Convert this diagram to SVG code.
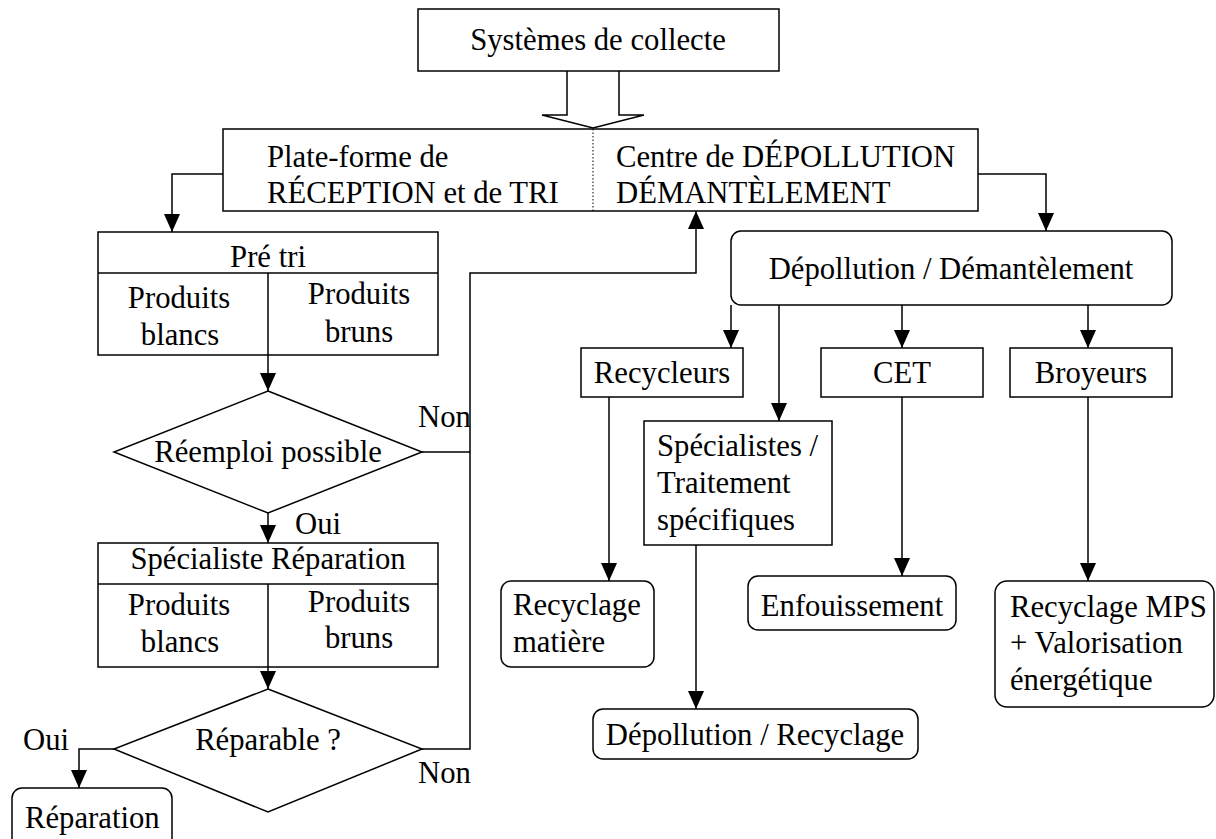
<svg xmlns="http://www.w3.org/2000/svg" width="1216" height="839" viewBox="0 0 1216 839">
<style>
.box{fill:#fff;stroke:#000;stroke-width:1.5}
.ln{fill:none;stroke:#000;stroke-width:1.5}
text{font-family:'Liberation Serif','DejaVu Serif','Times New Roman',serif;font-size:30.7px;fill:#000}
.c{text-anchor:middle}
</style>
<defs>
<marker id="ah" viewBox="0 0 18 16" markerWidth="18" markerHeight="16" refX="18" refY="8" orient="auto" markerUnits="userSpaceOnUse">
<path d="M0,0 L18,8 L0,16 Z" fill="#000"/>
</marker>
</defs>
<rect width="1216" height="839" fill="#fff"/>

<g id="connectors">
<path class="ln" d="M567,71 V115 H542 L593,128 L644,115 H619 V71" fill="#fff"/>
<path class="ln" d="M223,174 H172 V232" marker-end="url(#ah)"/>
<path class="ln" d="M978,174 H1046 V231" marker-end="url(#ah)"/>
<path class="ln" d="M268,355 V391" marker-end="url(#ah)"/>
<path class="ln" d="M268,513 V543" marker-end="url(#ah)"/>
<path class="ln" d="M268,667 V689" marker-end="url(#ah)"/>
<path class="ln" d="M114,749 H79 V788" marker-end="url(#ah)"/>
<path class="ln" d="M422,452 H470 V273 H696 V211" marker-end="url(#ah)"/>
<path class="ln" d="M422,749 H470 V452"/>
<path class="ln" d="M731,305 V348" marker-end="url(#ah)"/>
<path class="ln" d="M779,305 V421" marker-end="url(#ah)"/>
<path class="ln" d="M902,305 V348" marker-end="url(#ah)"/>
<path class="ln" d="M1088,305 V348" marker-end="url(#ah)"/>
<path class="ln" d="M609,397 V581" marker-end="url(#ah)"/>
<path class="ln" d="M696,545 V709" marker-end="url(#ah)"/>
<path class="ln" d="M902,397 V576" marker-end="url(#ah)"/>
<path class="ln" d="M1088,397 V581" marker-end="url(#ah)"/>
<text font-family="Liberation Serif, serif" x="418" y="427">Non</text>
<text font-family="Liberation Serif, serif" x="295" y="534">Oui</text>
<text font-family="Liberation Serif, serif" x="23" y="750">Oui</text>
<text font-family="Liberation Serif, serif" x="418" y="783">Non</text>
</g>

<g id="collecte">
<rect class="box" x="418" y="9" width="361" height="62"/>
<text class="c" x="598" y="50">Systèmes de collecte</text>
</g>

<g id="plateforme">
<rect class="box" x="223" y="129" width="755" height="82"/>
<line x1="593" y1="129" x2="593" y2="211" stroke="#000" stroke-width="1" stroke-dasharray="1.5,2"/>
<text x="267" y="167">Plate-forme de</text>
<text x="267" y="203">RÉCEPTION et de TRI</text>
<text x="616" y="167">Centre de DÉPOLLUTION</text>
<text x="616" y="203">DÉMANTÈLEMENT</text>
</g>

<g id="pretri">
<rect class="box" x="98" y="232" width="340" height="123"/>
<line class="ln" x1="98" y1="273" x2="438" y2="273"/>
<line class="ln" x1="268" y1="273" x2="268" y2="355"/>
<text class="c" x="268" y="267">Pré tri</text>
<text class="c" x="179" y="308">Produits</text>
<text class="c" x="180" y="345">blancs</text>
<text class="c" x="359" y="304">Produits</text>
<text class="c" x="359" y="342">bruns</text>
</g>

<g id="reemploi">
<polygon class="box" points="268,391 422,452 268,513 114,452"/>
<text class="c" x="268" y="462">Réemploi possible</text>
</g>

<g id="specialiste-reparation">
<rect class="box" x="98" y="543" width="340" height="124"/>
<line class="ln" x1="98" y1="584" x2="438" y2="584"/>
<line class="ln" x1="268" y1="584" x2="268" y2="667"/>
<text class="c" x="268" y="569">Spécialiste Réparation</text>
<text class="c" x="179" y="615">Produits</text>
<text class="c" x="180" y="652">blancs</text>
<text class="c" x="359" y="612">Produits</text>
<text class="c" x="359" y="648">bruns</text>
</g>

<g id="reparable">
<polygon class="box" points="268,689 422,749 268,812 114,749"/>
<text class="c" x="268" y="750">Réparable ?</text>
</g>

<g id="reparation">
<rect class="box" x="12" y="788" width="160" height="80" rx="10"/>
<text x="25" y="828">Réparation</text>
</g>

<g id="depollution-demantelement">
<rect class="box" x="731" y="231" width="441" height="74" rx="10"/>
<text class="c" x="951" y="279">Dépollution / Démantèlement</text>
</g>

<g id="recycleurs">
<rect class="box" x="581" y="348" width="162" height="49"/>
<text class="c" x="662" y="383">Recycleurs</text>
</g>

<g id="cet">
<rect class="box" x="821" y="348" width="162" height="49"/>
<text class="c" x="902" y="383">CET</text>
</g>

<g id="broyeurs">
<rect class="box" x="1010" y="348" width="162" height="49"/>
<text class="c" x="1091" y="383">Broyeurs</text>
</g>

<g id="specialistes">
<rect class="box" x="644" y="421" width="188" height="124"/>
<text x="657" y="456">Spécialistes /</text>
<text x="657" y="493">Traitement</text>
<text x="657" y="530">spécifiques</text>
</g>

<g id="recyclage-matiere">
<rect class="box" x="501" y="581" width="153" height="86" rx="10"/>
<text x="513" y="615">Recyclage</text>
<text x="513" y="652">matière</text>
</g>

<g id="enfouissement">
<rect class="box" x="748" y="576" width="208" height="54" rx="10"/>
<text class="c" x="852" y="616">Enfouissement</text>
</g>

<g id="depollution-recyclage">
<rect class="box" x="593" y="709" width="325" height="50" rx="10"/>
<text class="c" x="755" y="745">Dépollution / Recyclage</text>
</g>

<g id="recyclage-mps">
<rect class="box" x="995" y="581" width="219" height="126" rx="12"/>
<text x="1010" y="617">Recyclage MPS</text>
<text x="1010" y="653">+ Valorisation</text>
<text x="1010" y="690">énergétique</text>
</g>
</svg>
